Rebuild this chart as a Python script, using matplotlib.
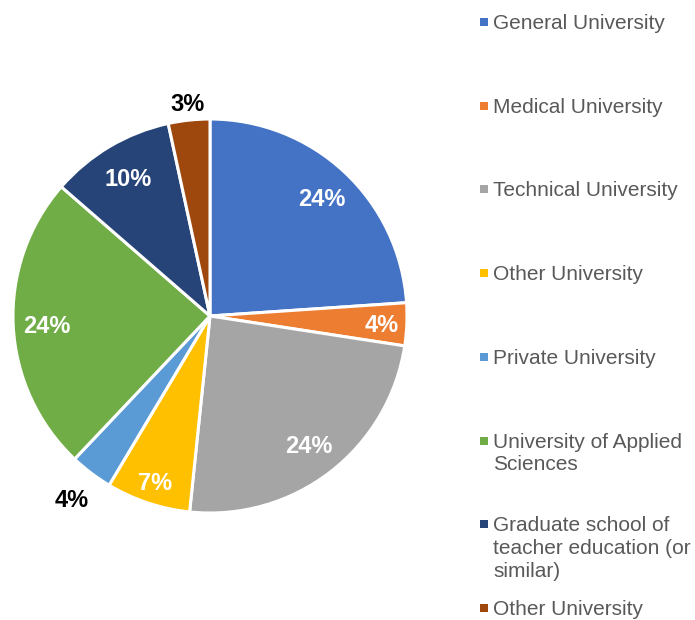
import numpy as np
import matplotlib
matplotlib.use("Agg")
from matplotlib import pyplot as plt
from matplotlib.patches import Rectangle

plt.rcParams['font.family'] = ['Liberation Sans', 'DejaVu Sans']

categories = ["General University", "Medical University", "Technical University",
              "Other University", "Private University",
              "University of Applied\nSciences",
              "Graduate school of\nteacher education (or\nsimilar)",
              "Other University"]
shares = [23.9, 3.5, 24.2, 6.9, 3.5, 24.3, 10.2, 3.4]
pct_labels = ["24%", "4%", "24%", "7%", "4%", "24%", "10%", "3%"]
colors = ["#4472C4", "#ED7D31", "#A5A5A5", "#FFC000",
          "#5B9BD5", "#70AD47", "#264478", "#9E480E"]

# label radius (fraction of pie radius) and colour, outside labels are black
label_r = [0.83, 0.87, 0.82, 0.88, 1.16, 0.83, 0.82, 1.09]
label_c = ["white", "white", "white", "white", "black", "white", "white", "black"]

W, H = 695, 620
fig = plt.figure(figsize=(W / 100, H / 100), dpi=100)

cx, cy, r = 210, 316, 197
ax = fig.add_axes([(cx - r) / W, (H - cy - r) / H, 2 * r / W, 2 * r / H])
wedges, _ = ax.pie(shares, colors=colors, startangle=90, counterclock=False,
                   wedgeprops=dict(edgecolor="white", linewidth=2.2))
ax.set_xlim(-1, 1)
ax.set_ylim(-1, 1)
ax.set_aspect("equal")
ax.axis("off")

for w, lab, rr, c in zip(wedges, pct_labels, label_r, label_c):
    ang = np.deg2rad((w.theta1 + w.theta2) / 2)
    ax.text(rr * np.cos(ang), rr * np.sin(ang), lab, ha="center",
            va="center_baseline", fontsize=17, fontweight="bold", color=c)

# legend, first lines evenly spaced like the original
for i, (name, col) in enumerate(zip(categories, colors)):
    y = 22 + 83.7 * i
    fig.patches.append(Rectangle((480 / W, 1 - (y + 4) / H), 8 / W, 8 / H,
                                 transform=fig.transFigure, facecolor=col,
                                 edgecolor="none"))
    fig.text(493 / W, 1 - (y - 8) / H, name, ha="left", va="top",
             fontsize=15, color="#595959", linespacing=1.25)

fig.savefig("out.png", dpi=100)
